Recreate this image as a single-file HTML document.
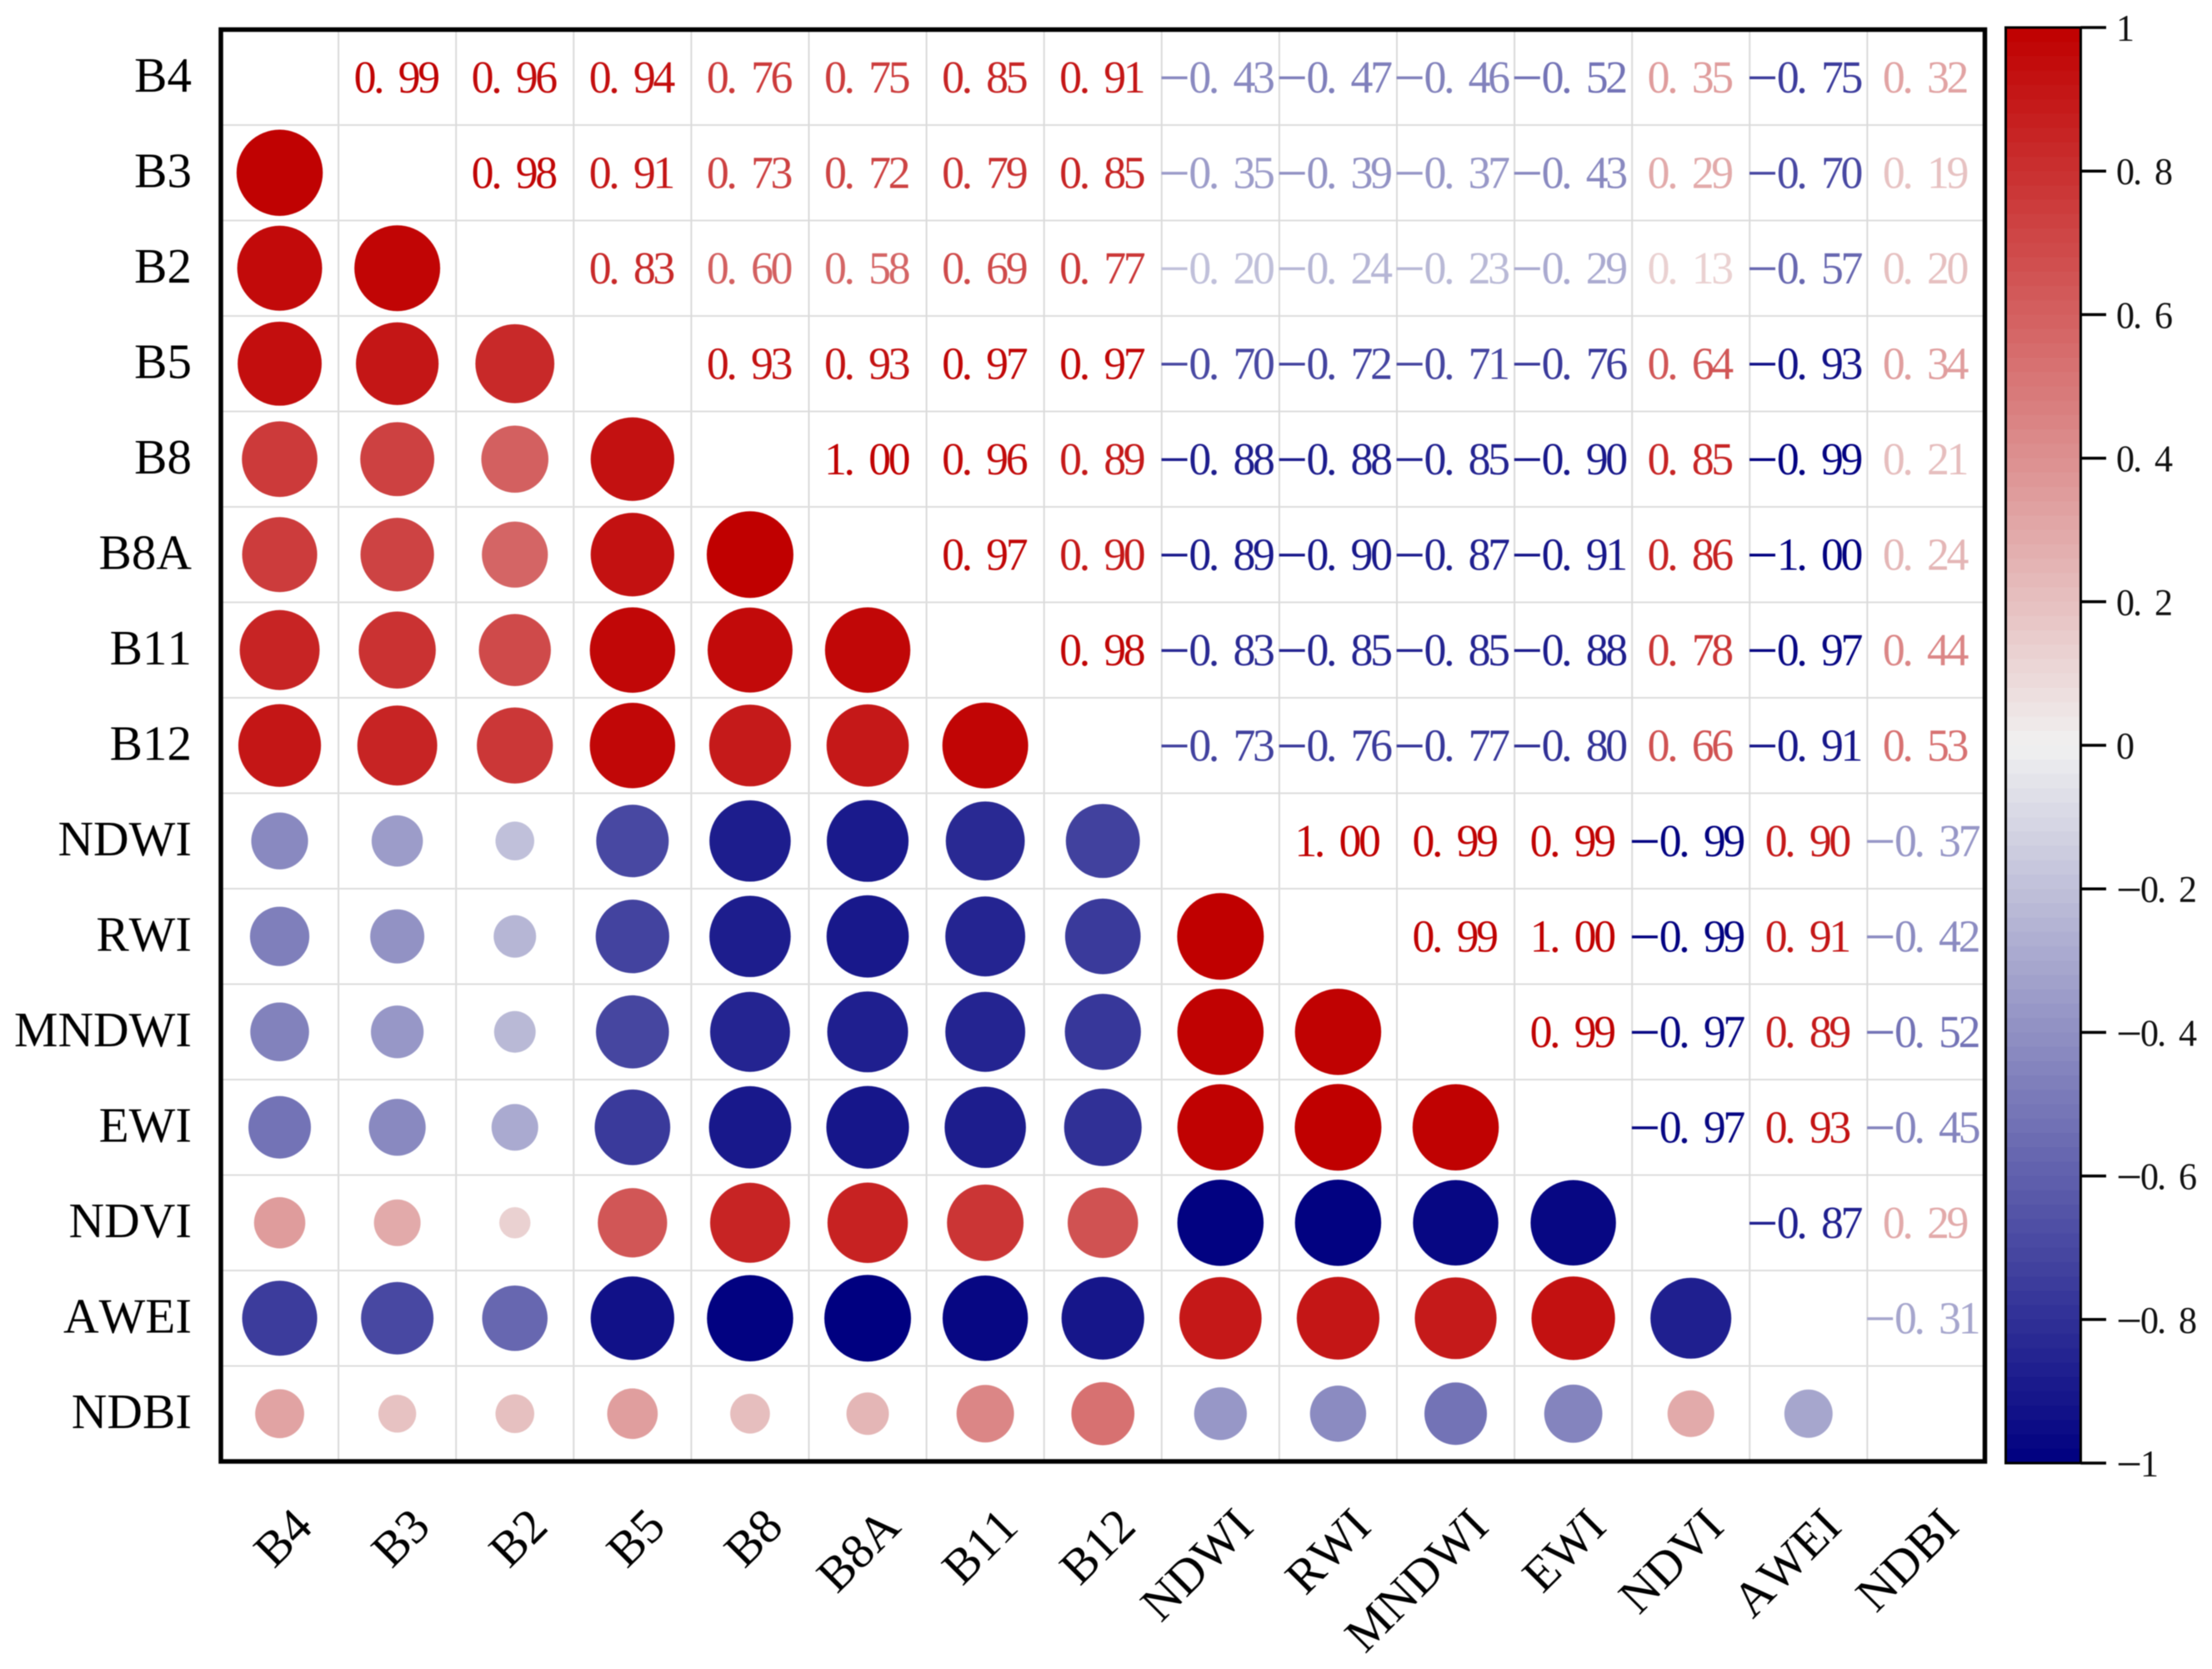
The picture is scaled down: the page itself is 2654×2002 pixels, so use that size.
<!DOCTYPE html>
<html lang="en">
<head>
<meta charset="utf-8">
<title>Correlation matrix</title>
<style>
html,body{margin:0;padding:0;background:#fff;}
#chart{display:block;width:2654px;height:2002px;filter:blur(0.6px);}
text{font-family:"Liberation Serif","Noto Serif CJK SC",serif;font-kerning:none;}
.value{font-size:55px;letter-spacing:-3.5px;word-spacing:9.7px;}
.value-minus{font-size:68px;}
.axis-label{font-size:59px;fill:#000;}
.cb-label{font-size:45px;letter-spacing:-2px;word-spacing:8px;fill:#111;}
.cb-minus{font-size:56px;}
</style>
</head>
<body>
<svg id="chart" xmlns="http://www.w3.org/2000/svg" width="2654" height="2002" viewBox="0 0 2654 2002">
<g id="grid"></g>
<g id="marks"></g>
<g id="values"></g>
<g id="ylabels"></g>
<g id="xlabels"></g>
<rect x="265" y="35.5" width="2116.5" height="1717.5" fill="none" stroke="#000" stroke-width="5.5"/>
<g id="colorbar"></g>
</svg>
<script>
const labels = ["B4","B3","B2","B5","B8","B8A","B11","B12","NDWI","RWI","MNDWI","EWI","NDVI","AWEI","NDBI"];
const upperRows = [
  [0.99,0.96,0.94,0.76,0.75,0.85,0.91,-0.43,-0.47,-0.46,-0.52,0.35,-0.75,0.32],
  [0.98,0.91,0.73,0.72,0.79,0.85,-0.35,-0.39,-0.37,-0.43,0.29,-0.70,0.19],
  [0.83,0.60,0.58,0.69,0.77,-0.20,-0.24,-0.23,-0.29,0.13,-0.57,0.20],
  [0.93,0.93,0.97,0.97,-0.70,-0.72,-0.71,-0.76,0.64,-0.93,0.34],
  [1.00,0.96,0.89,-0.88,-0.88,-0.85,-0.90,0.85,-0.99,0.21],
  [0.97,0.90,-0.89,-0.90,-0.87,-0.91,0.86,-1.00,0.24],
  [0.98,-0.83,-0.85,-0.85,-0.88,0.78,-0.97,0.44],
  [-0.73,-0.76,-0.77,-0.80,0.66,-0.91,0.53],
  [1.00,0.99,0.99,-0.99,0.90,-0.37],
  [0.99,1.00,-0.99,0.91,-0.42],
  [0.99,-0.97,0.89,-0.52],
  [-0.97,0.93,-0.45],
  [-0.87,0.29],
  [-0.31]
];
const colorbarTicks = [1,0.8,0.6,0.4,0.2,0,-0.2,-0.4,-0.6,-0.8,-1];
const colorbarTickLabels = ["1","0. 8","0. 6","0. 4","0. 2","0","\u22120. 2","\u22120. 4","\u22120. 6","\u22120. 8","\u22121"];

const NS = "http://www.w3.org/2000/svg";
const plot = {left:265, top:35.5, cellW:141.1, cellH:114.5};
const bar = {left:2406.5, right:2496.5, top:33, bottom:1755};
const xScale = i => plot.left + plot.cellW * (i + 0.5);
const yScale = i => plot.top + plot.cellH * (i + 0.5);
const radiusScale = v => 52 * Math.sqrt(Math.abs(v));
const barScale = v => bar.top + (1 - v) / 2 * (bar.bottom - bar.top);
function colorOf(v) {
  const t = Math.min(1, Math.abs(v));
  const mid = 240;
  const end = v >= 0 ? [192,0,0] : [0,0,128];
  const c = end.map(e => Math.round(mid + (e - mid) * t));
  return "rgb(" + c.join(",") + ")";
}
const make = tag => document.createElementNS(NS, tag);
const gGrid = document.getElementById("grid");
const gMarks = document.getElementById("marks");
const gValues = document.getElementById("values");
const gY = document.getElementById("ylabels");
const gX = document.getElementById("xlabels");
const gBar = document.getElementById("colorbar");

for (let i = 1; i < labels.length; i++) {
  const v = make("line");
  
  
  const x = plot.left + plot.cellW * i;
  v.setAttribute("x1", x); v.setAttribute("x2", x);
  v.setAttribute("y1", plot.top); v.setAttribute("y2", plot.top + plot.cellH * labels.length);
  v.setAttribute("stroke", "#dadada"); v.setAttribute("stroke-width", "2");
  gGrid.appendChild(v);
  const h = make("line");
  
  
  const y = plot.top + plot.cellH * i;
  h.setAttribute("y1", y); h.setAttribute("y2", y);
  h.setAttribute("x1", plot.left); h.setAttribute("x2", plot.left + plot.cellW * labels.length);
  h.setAttribute("stroke", "#dedede"); h.setAttribute("stroke-width", "2");
  gGrid.appendChild(h);
}

upperRows.forEach((row, r) => {
  row.forEach((val, k) => {
    const c = r + 1 + k;
    const dot = make("circle");
    
    
    dot.setAttribute("cx", xScale(r));
    dot.setAttribute("cy", yScale(c));
    dot.setAttribute("r", radiusScale(val));
    dot.setAttribute("fill", colorOf(val));
    gMarks.appendChild(dot);

    const t = make("text");
    
    
    t.setAttribute("class", "value");
    t.setAttribute("text-anchor", "middle");
    t.setAttribute("fill", colorOf(val));
    const shift = val < 0 ? -6 : -2;
    t.setAttribute("transform", "translate(" + (xScale(c) + shift) + "," + (yScale(r) + 18) + ") scale(0.98,1)");
    const s = Math.abs(val).toFixed(2).replace(".", ". ");
    if (val < 0) {
      const m = make("tspan");
      m.setAttribute("class", "value-minus");
      m.setAttribute("dy", "5");
      m.textContent = "\u2212";
      t.appendChild(m);
      const n = make("tspan");
      n.setAttribute("dx", "2");
      n.setAttribute("dy", "-5");
      n.textContent = s;
      t.appendChild(n);
    } else {
      t.textContent = s;
    }
    gValues.appendChild(t);
  });
});

labels.forEach((name, i) => {
  const y = make("text");
  
  
  y.setAttribute("class", "axis-label");
  y.setAttribute("text-anchor", "end");
  y.setAttribute("x", 230);
  y.setAttribute("y", yScale(i) + 17);
  y.textContent = name;
  gY.appendChild(y);

  const x = make("text");
  
  
  x.setAttribute("class", "axis-label");
  x.setAttribute("text-anchor", "end");
  x.setAttribute("transform", "translate(" + (xScale(i) + 42) + ",1834) rotate(-45)");
  x.textContent = name;
  gX.appendChild(x);
});

const bandCount = 100;
for (let b = 0; b < bandCount; b++) {
  const hi = 1 - 2 * b / bandCount;
  const lo = 1 - 2 * (b + 1) / bandCount;
  const band = make("rect");
  
  
  band.setAttribute("x", bar.left);
  band.setAttribute("y", barScale(hi));
  band.setAttribute("width", bar.right - bar.left);
  band.setAttribute("height", barScale(lo) - barScale(hi) + 0.5);
  band.setAttribute("fill", colorOf((hi + lo) / 2));
  gBar.appendChild(band);
}
const barFrame = make("rect");


barFrame.setAttribute("x", bar.left);
barFrame.setAttribute("y", bar.top);
barFrame.setAttribute("width", bar.right - bar.left);
barFrame.setAttribute("height", bar.bottom - bar.top);
barFrame.setAttribute("fill", "none");
barFrame.setAttribute("stroke", "#000");
barFrame.setAttribute("stroke-width", "3");
gBar.appendChild(barFrame);

colorbarTicks.forEach((v, i) => {
  const tick = make("line");
  
  
  tick.setAttribute("x1", bar.right);
  tick.setAttribute("x2", 2527);
  tick.setAttribute("y1", barScale(v));
  tick.setAttribute("y2", barScale(v));
  tick.setAttribute("stroke", "#000");
  tick.setAttribute("stroke-width", "3.5");
  gBar.appendChild(tick);

  const lab = make("text");
  
  
  lab.setAttribute("class", "cb-label");
  lab.setAttribute("transform", "translate(2539," + (barScale(v) + 16) + ") scale(0.98,1)");
  const tickText = colorbarTickLabels[i];
  if (tickText.charAt(0) === "\u2212") {
    const minus = make("tspan");
    minus.setAttribute("class", "cb-minus");
    minus.setAttribute("dy", "4");
    minus.textContent = "\u2212";
    lab.appendChild(minus);
    const rest = make("tspan");
    rest.setAttribute("dy", "-4");
    rest.textContent = tickText.slice(1);
    lab.appendChild(rest);
  } else {
    lab.textContent = tickText;
  }
  gBar.appendChild(lab);
});
</script>
</body>
</html>
